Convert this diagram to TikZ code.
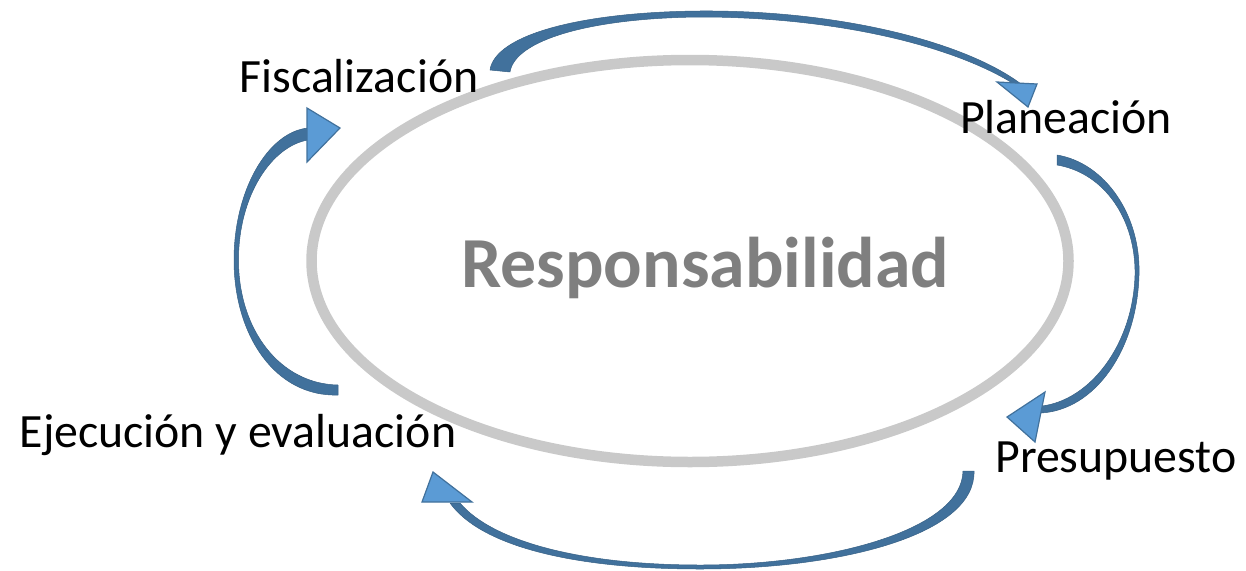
\documentclass[tikz,border=0pt]{standalone}
\usepackage{fontspec}
\setmainfont{Carlito}
\definecolor{ringgray}{HTML}{C9C9C9}
\definecolor{titlegray}{HTML}{7F7F7F}
\definecolor{bodyblue}{HTML}{41719C}
\definecolor{headblue}{HTML}{5B9BD5}
\begin{document}
\begin{tikzpicture}[x=1pt,y=-1pt,
  ring/.style={draw=ringgray,line width=10.5pt},
  label/.style={anchor=base,inner sep=0pt,font=\fontsize{47.8}{50}\selectfont},
  title/.style={anchor=base,inner sep=0pt,font=\fontsize{71.8}{74}\selectfont\bfseries,text=titlegray},
  shaft/.style={fill=bodyblue,draw=bodyblue!85!black,line width=0.5pt,line join=round},
  head/.style={fill=headblue,draw=bodyblue,line width=1.2pt,line join=miter}]
\useasboundingbox (0,0) rectangle (1246,570);
\draw[ring] (690,261) ellipse [x radius=378.5pt, y radius=201pt];
\node[title] (center) at (705,287) {Responsabilidad};
\node[label] (fisc) at (359,92) {Fiscalización};
\node[label] (plan) at (1066,133) {Planeación};
\node[label] (pres) at (1116,472) {Presupuesto};
\node[label] (ejec) at (238,447) {Ejecución y evaluación};
% top arrow: Fiscalizacion -> Planeacion
\filldraw[shaft] (490,70) .. controls (495,35) and (580,12) .. (700,11)
  .. controls (840,10) and (965,42) .. (1021,84) -- (1014,84)
  .. controls (955,47) and (840,17) .. (700,17)
  .. controls (590,18) and (515,40) .. (510,72) -- cycle;
\filldraw[head] (997,82) -- (1037,84) -- (1028,107) -- cycle;
% right arrow: Planeacion -> Presupuesto
\filldraw[shaft] (1057,155) .. controls (1105,163) and (1141,215) .. (1139,275)
  .. controls (1137,350) and (1095,410) .. (1041,413) -- (1042,406)
  .. controls (1090,400) and (1133,345) .. (1135,275)
  .. controls (1136,220) and (1105,173) .. (1057,165) -- cycle;
\filldraw[head] (1045,392) -- (1035,442) -- (1007,417) -- cycle;
% bottom arrow: Presupuesto -> Ejecucion
\filldraw[shaft] (974,471) .. controls (976,535) and (840,569) .. (700,569)
  .. controls (570,569) and (480,545) .. (450,503) -- (460,503)
  .. controls (492,541) and (580,565) .. (700,565)
  .. controls (830,565) and (962,530) .. (963,471) -- cycle;
\filldraw[head] (422,502) -- (433,472) -- (472,502) -- cycle;
% left arrow: Ejecucion -> Fiscalizacion
\filldraw[shaft] (338,395) .. controls (275,397) and (234,335) .. (234,260)
  .. controls (234,190) and (268,132) .. (308,128) -- (308,140)
  .. controls (272,146) and (238.5,195) .. (238.5,260)
  .. controls (238.5,330) and (280,384) .. (338,385) -- cycle;
\filldraw[head] (307,108) -- (340,128) -- (307,162) -- cycle;
\end{tikzpicture}
\end{document}
